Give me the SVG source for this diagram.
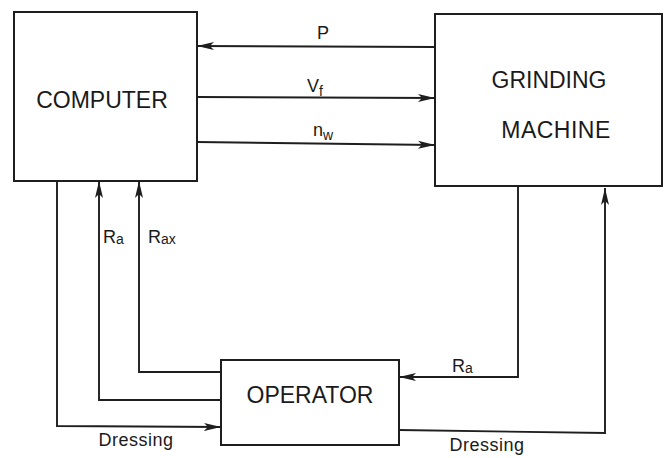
<svg xmlns="http://www.w3.org/2000/svg" width="667" height="458" viewBox="0 0 667 458">
<style>
.box{fill:#fff;stroke:#1e1e1e;stroke-width:2}
.big{font-family:"Liberation Sans",Arial,sans-serif;font-size:23px;fill:#1a1a1a}
.lbl{font-family:"Liberation Sans",Arial,sans-serif;font-size:18px;fill:#1a1a1a}
.sub{font-size:14px}
.ln{fill:none;stroke:#1e1e1e;stroke-width:1.9}
</style>
<defs>
<marker id="ah" viewBox="0 0 17 9" refX="17" refY="4.5" markerWidth="17" markerHeight="9" markerUnits="userSpaceOnUse" orient="auto">
<path d="M0,0.5 L17,4.5 L0,8.5 L4,4.5 z" fill="#1e1e1e"/>
</marker>
</defs>
<rect width="667" height="458" fill="#fff"/>
<g id="computer">
<rect class="box" x="14" y="12" width="183" height="169"/>
<text class="big" x="102" y="108" text-anchor="middle">COMPUTER</text>
</g>
<g id="grinding-machine">
<rect class="box" x="435" y="14" width="227" height="172"/>
<text class="big" x="549" y="88" text-anchor="middle">GRINDING</text>
<text class="big" x="556" y="138" text-anchor="middle" letter-spacing="0.5">MACHINE</text>
</g>
<g id="operator">
<rect class="box" x="221" y="360" width="178" height="85"/>
<text class="big" x="310" y="403" text-anchor="middle">OPERATOR</text>
</g>
<g id="connectors">
<path class="ln" d="M435,47 L197,46" marker-end="url(#ah)"/>
<path class="ln" d="M197,97 L435,98" marker-end="url(#ah)"/>
<path class="ln" d="M197,142 L435,145" marker-end="url(#ah)"/>
<path class="ln" d="M221,372 L139,372 L139,181" marker-end="url(#ah)"/>
<path class="ln" d="M221,400 L99,400 L99,181" marker-end="url(#ah)"/>
<path class="ln" d="M57,181 L57,426 L221,427" marker-end="url(#ah)"/>
<path class="ln" d="M518,187 L518,377 L399,377" marker-end="url(#ah)"/>
<path class="ln" d="M399,430 L605,433 L605,188" marker-end="url(#ah)"/>
</g>
<g id="labels">
<text class="lbl" x="323" y="39" text-anchor="middle">P</text>
<text class="lbl" x="307" y="92">V<tspan class="sub" dy="4">f</tspan></text>
<text class="lbl" x="313" y="136">n<tspan class="sub" dy="4">w</tspan></text>
<text class="lbl" x="103" y="243">R<tspan class="sub" dy="1">a</tspan></text>
<text class="lbl" x="148" y="243">R<tspan class="sub" dy="1">ax</tspan></text>
<text class="lbl" x="452" y="372">R<tspan class="sub" dy="1">a</tspan></text>
<text class="lbl" x="136" y="446" text-anchor="middle" letter-spacing="0.5">Dressing</text>
<text class="lbl" x="487" y="451" text-anchor="middle" letter-spacing="0.5">Dressing</text>
</g>
</svg>
